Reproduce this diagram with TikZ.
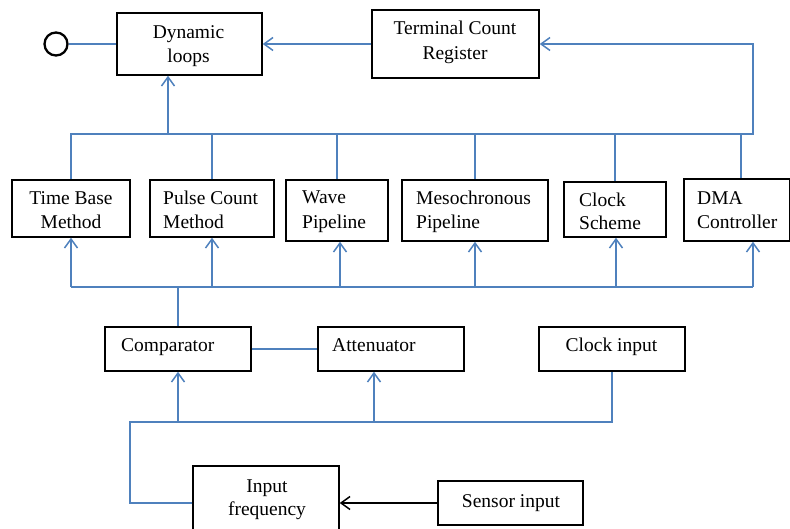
\documentclass[tikz,border=0pt]{standalone}
\usepackage{fontspec}
\setmainfont{Liberation Serif}
\usetikzlibrary{arrows.meta}
\definecolor{lblue}{RGB}{79,129,189}
\begin{document}
\begin{tikzpicture}[x=1pt,y=-1pt,
 box/.style={draw=black,line width=1.5pt,inner sep=0pt},
 txt/.style={inner sep=0pt,font=\fontsize{19.5}{24}\selectfont},
 wire/.style={draw=lblue,line width=1.8pt},
 blk/.style={draw=black,line width=1.5pt},
 arr/.style={-{Straight Barb[length=9pt,width=13pt,line width=1.5pt]}},
]
\useasboundingbox (0,0) rectangle (790,529);

% boxes
\node[box,minimum width=145pt,minimum height=62pt] (dyn) at (189.5,44) {};
\node[box,minimum width=167pt,minimum height=68pt] (tcr) at (455.5,44) {};
\node[draw=black,line width=2.3pt,circle,minimum size=23pt,inner sep=0pt] (term) at (56,44) {};
\node[box,minimum width=118pt,minimum height=57pt] (tb) at (71,208.5) {};
\node[box,minimum width=124pt,minimum height=57pt] (pc) at (212,208.5) {};
\node[box,minimum width=102pt,minimum height=61pt] (wp) at (337,210.5) {};
\node[box,minimum width=146pt,minimum height=61pt] (mp) at (475,210.5) {};
\node[box,minimum width=102pt,minimum height=55pt] (cs) at (615,209.5) {};
\node[box,minimum width=106pt,minimum height=62pt] (dma) at (737,210) {};
\node[box,minimum width=146pt,minimum height=44pt] (comp) at (178,349) {};
\node[box,minimum width=146pt,minimum height=44pt] (att) at (391,349) {};
\node[box,minimum width=146pt,minimum height=44pt] (ci) at (612,349) {};
\node[box,minimum width=146pt,minimum height=74pt] (inf) at (266,503) {};
\node[box,minimum width=145pt,minimum height=44pt] (sen) at (510.5,503) {};

% texts
\node[txt,anchor=base] (dyn1) at (188.5,39) {Dynamic};
\node[txt,anchor=base] (dyn2) at (188.5,63) {loops};
\node[txt,anchor=base] (tcr1) at (455,35) {Terminal Count};
\node[txt,anchor=base] (tcr2) at (455,60) {Register};
\node[txt,anchor=base] (tb1) at (71,205) {Time Base};
\node[txt,anchor=base] (tb2) at (71,229) {Method};
\node[txt,anchor=base west] (pc1) at (163,205) {Pulse Count};
\node[txt,anchor=base west] (pc2) at (163,229) {Method};
\node[txt,anchor=base west] (wp1) at (302,204) {Wave};
\node[txt,anchor=base west] (wp2) at (302,229) {Pipeline};
\node[txt,anchor=base west] (mp1) at (416,205) {Mesochronous};
\node[txt,anchor=base west] (mp2) at (416,229) {Pipeline};
\node[txt,anchor=base west] (cs1) at (579,207) {Clock};
\node[txt,anchor=base west] (cs2) at (579,230) {Scheme};
\node[txt,anchor=base west] (dma1) at (697,205) {DMA};
\node[txt,anchor=base west] (dma2) at (697,229) {Controller};
\node[txt,anchor=base west] (comp1) at (121,352) {Comparator};
\node[txt,anchor=base west] (att1) at (332,352) {Attenuator};
\node[txt,anchor=base] (ci1) at (611.5,352) {Clock input};
\node[txt,anchor=base] (inf1) at (267,492) {Input};
\node[txt,anchor=base] (inf2) at (267,515) {frequency};
\node[txt,anchor=base] (sen1) at (511,507) {Sensor input};

% top part
\coordinate (tr) at (753,134);
\coordinate (dj) at (168,134);
\draw[wire] (term) -- (dyn.west);
\draw[wire,arr] (tcr.west) -- (dyn.east);
\draw[wire,arr] (tb.north) |- (tr) |- (tcr.east);
\draw[wire] (pc.north) -- (pc.north |- tr);
\draw[wire] (wp.north) -- (wp.north |- tr);
\draw[wire] (mp.north) -- (mp.north |- tr);
\draw[wire] (cs.north) -- (cs.north |- tr);
\draw[wire] ([xshift=4pt]dma.north) -- ([xshift=4pt]dma.north |- tr);
\draw[wire,arr] (dj) -- (dj |- dyn.south);

% bottom bus
\coordinate (bl) at (71,287);
\coordinate (br) at (753,287);
\draw[wire] (bl) -- (br);
\draw[wire,arr] (bl) -- (bl |- tb.south);
\draw[wire,arr] (pc.south |- bl) -- (pc.south);
\draw[wire,arr] ([xshift=3pt]wp.south |- bl) -- ([xshift=3pt]wp.south);
\draw[wire,arr] (mp.south |- bl) -- (mp.south);
\draw[wire,arr] ([xshift=1pt]cs.south |- bl) -- ([xshift=1pt]cs.south);
\draw[wire,arr] (br) -- (br |- dma.south);
\draw[wire] (comp.north) -- (comp.north |- bl);

% lower part
\coordinate (ll) at (130,422);
\draw[wire] (comp.east) -- (att.west);
\draw[wire] (inf.west) -| (ll) -| (ci.south);
\draw[wire,arr] (comp.south |- ll) -- (comp.south);
\draw[wire,arr] ([xshift=-17pt]att.south |- ll) -- ([xshift=-17pt]att.south);
\draw[blk,arr] (sen.west) -- (inf.east);
\end{tikzpicture}
\end{document}
